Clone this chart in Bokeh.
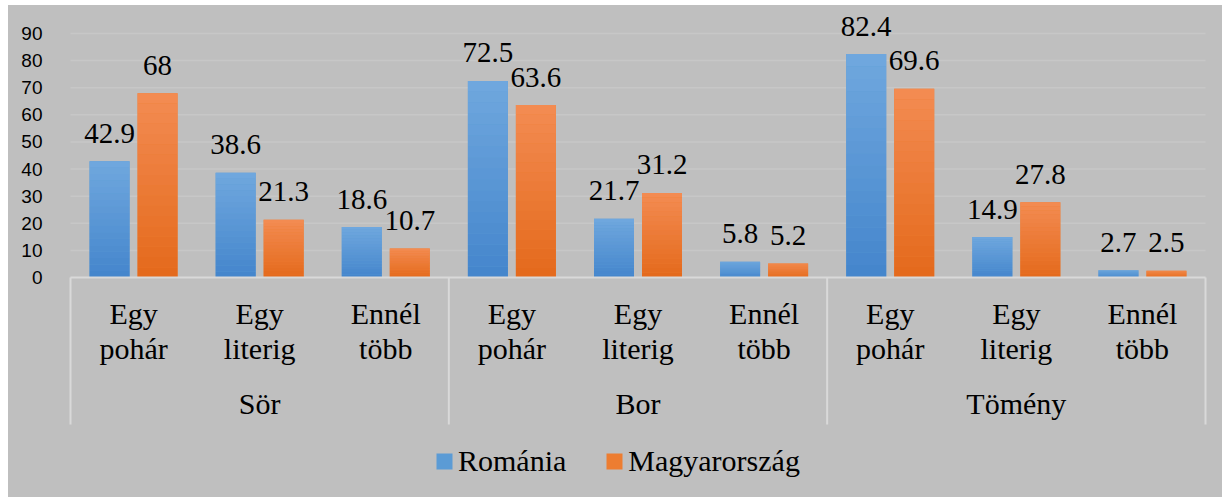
from bokeh.plotting import figure
from bokeh.models import Range1d, FixedTicker, Legend, LegendItem, ColumnDataSource
from bokeh.core.properties import value
from bokeh.embed import file_html
from bokeh.resources import INLINE

# ---- data ----
groups = ["Sör", "Bor", "Tömény"]
subcats = ["Egy pohár", "Egy literig", "Ennél több"]
series_names = ["Románia", "Magyarország"]
romania = [42.9, 38.6, 18.6, 72.5, 21.7, 5.8, 82.4, 14.9, 2.7]
magyarorszag = [68, 21.3, 10.7, 63.6, 31.2, 5.2, 69.6, 27.8, 2.5]
y_ticks = [0, 10, 20, 30, 40, 50, 60, 70, 80, 90]

# ---- styling ----
BG = "#bfbfbf"
GRID = "#c7c7c7"
AXIS = "#d9d9d9"
SERIF_NAME = "Liberation Serif"
SERIF = value(SERIF_NAME)
blue_top, blue_bot, blue_mid = (0x70, 0xa8, 0xde), (0x44, 0x85, 0xcc), "#5b9bd5"
orng_top, orng_bot, orng_mid = (0xf3, 0x8c, 0x53), (0xe4, 0x69, 0x1b), "#ed7d31"

n_cat = len(groups) * len(subcats)
px_per_cat = 1135 / n_cat
pad = 8 / px_per_cat
px_per_unit = 244 / 90
y_top = 265 / px_per_unit
y_bot = -213 / px_per_unit
sep_bottom = -147 / px_per_unit

p = figure(width=1214, height=492, output_backend="svg", toolbar_location=None,
           x_range=Range1d(-pad, n_cat + pad), y_range=Range1d(y_bot, y_top),
           min_border_left=54, min_border_right=9, min_border_top=7, min_border_bottom=7,
           margin=(5, 0, 0, 8))
p.styles = {"background-color": BG}
p.background_fill_alpha = 0
p.border_fill_alpha = 0
p.outline_line_color = None
p.xaxis.visible = False
p.xgrid.visible = False
p.ygrid.visible = False

yax = p.yaxis[0]
yax.ticker = FixedTicker(ticks=y_ticks)
yax.axis_line_color = None
yax.major_tick_line_color = None
yax.minor_tick_line_color = None
yax.major_label_standoff = 14
yax.major_label_text_font = "Liberation Sans"
yax.major_label_text_font_size = "19px"
yax.major_label_text_color = "#000000"

# gridlines (within category span)
grid_src = ColumnDataSource(dict(x0=[0] * (len(y_ticks) - 1), x1=[n_cat] * (len(y_ticks) - 1), y=y_ticks[1:]))
p.segment(x0="x0", x1="x1", y0="y", y1="y", source=grid_src, line_color=GRID, line_width=1.5)

# bars (vertical gradient built from slices of each bar's own value)
centers = [i + 0.5 for i in range(n_cat)]
off = 24 / px_per_cat
bw = 40 / px_per_cat
x_ro = [c - off for c in centers]
x_hu = [c + off for c in centers]

def lerp(a, b, t):
    return "#%02x%02x%02x" % tuple(int(round(a[j] + (b[j] - a[j]) * t)) for j in range(3))

renderers = []
for xs, vals, mid, top, bot in [(x_ro, romania, blue_mid, blue_top, blue_bot),
                                (x_hu, magyarorszag, orng_mid, orng_top, orng_bot)]:
    base = p.vbar(x=xs, top=vals, bottom=0, width=bw, fill_color=mid, line_color=None)
    renderers.append(base)
    n = 18
    for k in range(n):
        p.vbar(x=xs, bottom=[v * k / n for v in vals], top=[v * (k + 1) / n for v in vals],
               width=bw, fill_color=lerp(bot, top, (k + 0.5) / n), line_color=None)

# data labels
def fmt(v):
    return ("%g" % v)

for xs, vals in [(x_ro, romania), (x_hu, magyarorszag)]:
    p.text(x=xs, y=vals, text=[fmt(v) for v in vals], text_font=SERIF, text_font_size="29px",
           text_align="center", text_baseline="alphabetic", y_offset=-28, text_color="#000000")

# category axis: baseline + group separators
p.segment(x0=[0], x1=[n_cat], y0=[0], y1=[0], line_color=AXIS, line_width=2)
seps = [i * len(subcats) for i in range(len(groups) + 1)]
p.segment(x0=seps, x1=seps, y0=[0] * len(seps), y1=[sep_bottom] * len(seps), line_color=AXIS, line_width=2)

line1 = [s.split(" ", 1)[0] for s in subcats] * len(groups)
line2 = [s.split(" ", 1)[1] for s in subcats] * len(groups)
p.text(x=centers, y=[0] * n_cat, text=line1, text_font=SERIF, text_font_size="30px",
       text_align="center", text_baseline="alphabetic", y_offset=36, text_color="#000000")
p.text(x=centers, y=[0] * n_cat, text=line2, text_font=SERIF, text_font_size="30px",
       text_align="center", text_baseline="alphabetic", y_offset=71, text_color="#000000")
gcent = [i * len(subcats) + len(subcats) / 2 for i in range(len(groups))]
p.text(x=gcent, y=[0] * len(groups), text=groups, text_font=SERIF, text_font_size="30px",
       text_align="center", text_baseline="alphabetic", y_offset=126, text_color="#000000")

legend = Legend(items=[LegendItem(label=series_names[i], renderers=[renderers[i]]) for i in range(2)],
                orientation="horizontal", location=(372, 12), background_fill_alpha=0,
                border_line_color=None, padding=0, margin=0, spacing=38,
                glyph_width=20, glyph_height=20, label_standoff=4,
                label_text_font=SERIF_NAME, label_text_font_size="30px", label_text_color="#000000")
p.add_layout(legend)

open("out.html", "w").write(file_html(p, INLINE))
